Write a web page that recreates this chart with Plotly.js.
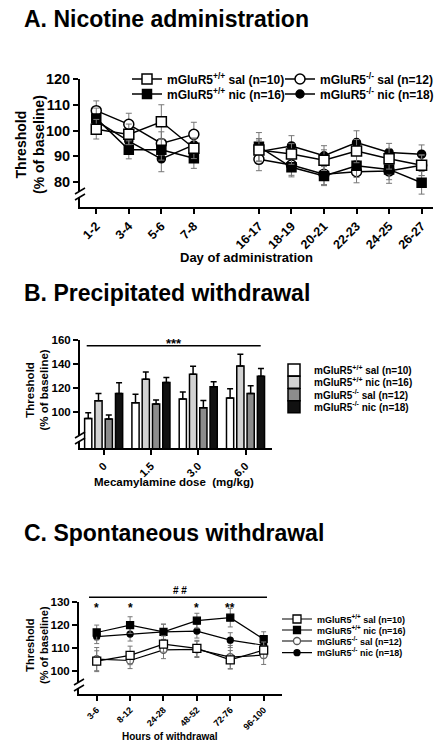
<!DOCTYPE html>
<html><head><meta charset="utf-8">
<script src="https://cdn.plot.ly/plotly-3.0.1.min.js"></script>
<style>html,body{margin:0;padding:0;background:#fff}#chart{width:445px;height:750px}</style>
</head><body><div id="chart"></div>
<script>
// ---------- DATA ----------
const seriesNames = ['mGluR5<sup>+/+</sup> sal (n=10)', 'mGluR5<sup>+/+</sup> nic (n=16)',
                     'mGluR5<sup>-/-</sup> sal (n=12)', 'mGluR5<sup>-/-</sup> nic (n=18)'];
const yTitle = 'Threshold<br>(% of baseline)';
const xTitles = ['Day of administration', 'Mecamylamine dose  (mg/kg)', 'Hours of withdrawal'];

// Panel A: nicotine administration
const daysA = ['1-2','3-4','5-6','7-8','16-17','18-19','20-21','22-23','24-25','26-27'];
const aWtSal    = [100.5, 98.5, 103.4, 93.1, 92.4, 90.9, 88.5, 92.0, 89.0, 86.5];
const aWtSalErr = [3.8, 4.0, 6.6, 4.0, 4.5, 4.0, 4.0, 4.5, 4.0, 4.0];
const aWtNic    = [104.7, 92.5, 92.5, 89.2, 93.7, 85.7, 82.3, 86.3, 84.9, 79.7];
const aWtNicErr = [4.0, 3.5, 4.0, 3.9, 5.5, 3.7, 3.7, 4.5, 4.0, 4.4];
const aKoSal    = [107.7, 102.4, 95.0, 98.5, 88.8, 86.6, 83.0, 84.0, 84.3, 86.5];
const aKoSalErr = [3.8, 4.3, 4.5, 4.7, 4.4, 4.0, 4.0, 4.3, 4.8, 4.0];
const aKoNic    = [103.7, 95.9, 89.0, 94.4, 91.8, 94.0, 90.2, 95.3, 91.5, 90.8];
const aKoNicErr = [4.0, 4.0, 5.0, 4.0, 4.5, 4.0, 3.9, 4.6, 3.5, 3.6];
const gapAfterA = '7-8';

// Panel B: precipitated withdrawal
const dosesB = ['0','1.5','3.0','6.0'];
const bWtSal    = [95.0, 108.0, 111.0, 112.0];
const bWtSalErr = [4.7, 7.0, 5.8, 7.5];
const bWtNic    = [109.6, 127.5, 131.7, 138.5];
const bWtNicErr = [6.1, 6.0, 6.6, 9.7];
const bKoSal    = [94.5, 106.9, 103.8, 115.7];
const bKoSalErr = [3.3, 3.3, 6.1, 6.3];
const bKoNic    = [115.7, 124.8, 121.2, 130.0];
const bKoNicErr = [8.8, 4.1, 4.1, 6.4];

// Panel C: spontaneous withdrawal
const hoursC = ['3-6','8-12','24-28','48-52','72-76','96-100'];
const cWtSal    = [104.3, 106.8, 111.7, 109.8, 104.9, 109.1];
const cWtSalErr = [4.5, 4.0, 3.5, 3.5, 4.0, 3.5];
const cWtNic    = [116.7, 119.9, 117.0, 121.8, 123.1, 113.8];
const cWtNicErr = [3.2, 3.6, 3.3, 3.2, 4.0, 3.2];
const cKoSal    = [105.2, 104.6, 109.2, 109.4, 106.1, 106.9];
const cKoSalErr = [5.0, 3.5, 3.8, 3.5, 5.0, 4.0];
const cKoNic    = [114.9, 116.0, 117.0, 117.3, 113.4, 111.2];
const cKoNicErr = [3.0, 3.0, 3.3, 3.0, 3.2, 3.0];
const starsC = ['*', '*', '', '*', '**', ''];

// ---------- HELPERS ----------
const W = 445, H = 750;
const px = v => v / W;
const py = v => 1 - v / H;
const FONT = 'Liberation Sans, Arial, sans-serif';
const bold = (size, color) => ({family: FONT, size: size, weight: 'bold', color: color || '#000'});

// Panel A: insert a spacer category (with null value) to break the line
const SPACER = ' ';
const gapIdx = daysA.indexOf(gapAfterA) + 1;
const catsA = daysA.slice(0, gapIdx).concat([SPACER], daysA.slice(gapIdx));
const withGap = arr => arr.slice(0, gapIdx).concat([null], arr.slice(gapIdx));

const traces = [];
const styleA = [
  {y: aKoNic, e: aKoNicErr, name: seriesNames[3], sym: 'circle', fill: '#000', size: 8, leg: 'legend4'},
  {y: aKoSal, e: aKoSalErr, name: seriesNames[2], sym: 'circle', fill: '#fff', size: 10, leg: 'legend3'},
  {y: aWtNic, e: aWtNicErr, name: seriesNames[1], sym: 'square', fill: '#000', size: 9, leg: 'legend2'},
  {y: aWtSal, e: aWtSalErr, name: seriesNames[0], sym: 'square', fill: '#fff', size: 10, leg: 'legend'}
];
styleA.forEach(s => traces.push({
  type: 'scatter', mode: 'lines+markers', xaxis: 'x', yaxis: 'y',
  x: catsA, y: withGap(s.y), name: s.name, legend: s.leg, cliponaxis: false,
  line: {color: '#000', width: 1.5},
  marker: {symbol: s.sym, color: s.fill, size: s.size, line: {color: '#000', width: 1.5}},
  error_y: {type: 'data', array: withGap(s.e), color: '#777', thickness: 1, width: 3}
}));

const styleB = [
  {y: bWtSal, e: bWtSalErr, name: seriesNames[0], fill: '#ffffff', leg: 'legend5'},
  {y: bWtNic, e: bWtNicErr, name: seriesNames[1], fill: '#d2d2d2', leg: 'legend6'},
  {y: bKoSal, e: bKoSalErr, name: seriesNames[2], fill: '#8c8c8c', leg: 'legend7'},
  {y: bKoNic, e: bKoNicErr, name: seriesNames[3], fill: '#111111', leg: 'legend8'}
];
styleB.forEach(s => traces.push({
  type: 'bar', xaxis: 'x2', yaxis: 'y2', x: dosesB, y: s.y, name: s.name, legend: s.leg,
  marker: {color: s.fill, line: {color: '#000', width: 1.5}},
  error_y: {type: 'data', symmetric: false, array: s.e, arrayminus: s.e.map(() => 0),
            color: '#000', thickness: 1.5, width: 3}
}));

const styleC = [
  {y: cKoNic, e: cKoNicErr, name: seriesNames[3], sym: 'circle', fill: '#000', lc: '#000', size: 6, leg: 'legend12'},
  {y: cKoSal, e: cKoSalErr, name: seriesNames[2], sym: 'circle', fill: '#fff', lc: '#555', size: 7, leg: 'legend11'},
  {y: cWtNic, e: cWtNicErr, name: seriesNames[1], sym: 'square', fill: '#000', lc: '#000', size: 7, leg: 'legend10'},
  {y: cWtSal, e: cWtSalErr, name: seriesNames[0], sym: 'square', fill: '#fff', lc: '#000', size: 8, leg: 'legend9'}
];
styleC.forEach(s => traces.push({
  type: 'scatter', mode: 'lines+markers', xaxis: 'x3', yaxis: 'y3',
  x: hoursC, y: s.y, name: s.name, legend: s.leg, cliponaxis: false,
  line: {color: '#000', width: 1.2},
  marker: {symbol: s.sym, color: s.fill, size: s.size, line: {color: s.lc, width: 1.3}},
  error_y: {type: 'data', array: s.e, color: '#777', thickness: 1, width: 2.5}
}));

// ---------- LAYOUT ----------
const axisBase = {
  showline: true, linecolor: '#000', linewidth: 2, ticks: 'outside', ticklen: 5,
  tickwidth: 2, tickcolor: '#000', showgrid: false, zeroline: false, fixedrange: true
};
const legendAt = (xLeft, yMid, size) => ({
  x: px(xLeft), y: py(yMid), xanchor: 'left', yanchor: 'middle', bgcolor: 'rgba(0,0,0,0)',
  borderwidth: 0, font: bold(size), itemclick: false, itemdoubleclick: false
});

// axis-break marks ("//") on the y axes
function breakMarks(xAxisPx, yPx) {
  const s = [];
  s.push({type: 'rect', xref: 'paper', yref: 'paper', x0: px(xAxisPx - 2), x1: px(xAxisPx + 2),
          y0: py(yPx + 3), y1: py(yPx - 3), fillcolor: '#fff', line: {width: 0}, layer: 'above'});
  [-3, 3].forEach(d => s.push({type: 'line', xref: 'paper', yref: 'paper',
          x0: px(xAxisPx - 5), y0: py(yPx + d + 3), x1: px(xAxisPx + 5), y1: py(yPx + d - 3),
          line: {color: '#000', width: 1.5}, layer: 'above'}));
  return s;
}

const annotations = [
  {text: 'A. Nicotine administration', x: px(22), y: py(19)},
  {text: 'B. Precipitated withdrawal', x: px(22), y: py(293)},
  {text: 'C. Spontaneous withdrawal', x: px(22), y: py(533)}
].map(a => Object.assign(a, {xref: 'paper', yref: 'paper', xanchor: 'left', yanchor: 'middle',
                              showarrow: false, font: bold(23)}));

// y-axis titles (two lines, rotated)
[{x: 30, y: 145, size: 14}, {x: 36.5, y: 390, size: 11.5}, {x: 37, y: 645, size: 11}].forEach(t =>
  annotations.push({text: yTitle, xref: 'paper', yref: 'paper', x: px(t.x), y: py(t.y),
    xanchor: 'center', yanchor: 'middle', textangle: -90, showarrow: false, font: bold(t.size)}));

// x-axis titles
[{x: 246.5, y: 257, size: 13}, {x: 174, y: 482, size: 11.5}, {x: 169.5, y: 736, size: 10}].forEach((t, i) =>
  annotations.push({text: xTitles[i], xref: 'paper', yref: 'paper', x: px(t.x), y: py(t.y),
    xanchor: 'center', yanchor: 'middle', showarrow: false, font: bold(t.size)}));

annotations.push({text: '***', xref: 'paper', yref: 'paper', x: px(174), y: py(343),
                  xanchor: 'center', yanchor: 'middle', showarrow: false, font: bold(13)});
annotations.push({text: '# #', xref: 'paper', yref: 'paper', x: px(180), y: py(590),
                  xanchor: 'center', yanchor: 'middle', showarrow: false, font: {family: FONT, size: 10, color: '#000'}});
hoursC.forEach((h, i) => { if (starsC[i]) annotations.push({
  text: starsC[i], xref: 'x3', yref: 'paper', x: h, y: py(608), xanchor: 'center', yanchor: 'middle',
  showarrow: false, font: bold(12)}); });

const shapes = [
  {type: 'line', xref: 'paper', yref: 'paper', x0: px(86.7), x1: px(260.7), y0: py(345.7), y1: py(345.7),
   line: {color: '#000', width: 1.5}},
  {type: 'line', xref: 'paper', yref: 'paper', x0: px(89), x1: px(267), y0: py(597.3), y1: py(597.3),
   line: {color: '#000', width: 1.5}}
].concat(breakMarks(80, 194), breakMarks(80, 438), breakMarks(79, 685));

const layout = {
  width: W, height: H, margin: {l: 0, r: 0, t: 0, b: 0},
  paper_bgcolor: '#fff', plot_bgcolor: 'rgba(0,0,0,0)', font: bold(12),
  barmode: 'group', bargap: 0.13, bargroupgap: 0.3, showlegend: true,
  xaxis: Object.assign({}, axisBase, {
    domain: [px(80), px(433)], anchor: 'y', type: 'category', categoryarray: catsA, categoryorder: 'array',
    range: [-0.5, 10.35], tickvals: daysA, tickangle: -45, tickfont: bold(12.5)}),
  yaxis: Object.assign({}, axisBase, {
    domain: [py(207), py(79)], anchor: 'x', range: [70.3, 120], tickvals: [80, 90, 100, 110, 120],
    tickfont: bold(14.5)}),
  xaxis2: Object.assign({}, axisBase, {
    domain: [px(80), px(272)], anchor: 'y2', type: 'category', categoryarray: dosesB, categoryorder: 'array',
    range: [-0.5, 3.56], tickangle: -45, tickfont: bold(11)}),
  yaxis2: Object.assign({}, axisBase, {
    domain: [py(448.3), py(340)], anchor: 'x2', range: [70.2, 160], tickvals: [100, 120, 140, 160],
    tickfont: bold(11.5)}),
  xaxis3: Object.assign({}, axisBase, {
    domain: [px(79), px(281.7)], anchor: 'y3', type: 'category', categoryarray: hoursC, categoryorder: 'array',
    range: [-0.53, 5.54], tickangle: -45, tickfont: bold(9)}),
  yaxis3: Object.assign({}, axisBase, {
    domain: [py(694.3), py(601.7)], anchor: 'x3', range: [90, 130], tickvals: [100, 110, 120, 130],
    tickfont: bold(11.5)}),
  legend:   legendAt(127, 79, 12),
  legend2:  legendAt(127, 94, 12),
  legend3:  legendAt(280, 79, 12),
  legend4:  legendAt(280, 94, 12),
  legend5:  legendAt(274, 370, 10),
  legend6:  legendAt(274, 382.3, 10),
  legend7:  legendAt(274, 394.7, 10),
  legend8:  legendAt(274, 406.7, 10),
  legend9:  legendAt(277, 619, 9),
  legend10: legendAt(277, 630, 9),
  legend11: legendAt(277, 641, 9),
  legend12: legendAt(277, 652.7, 9),
  annotations: annotations, shapes: shapes
};

Plotly.newPlot('chart', traces, layout, {displayModeBar: false, staticPlot: true});
</script></body></html>
